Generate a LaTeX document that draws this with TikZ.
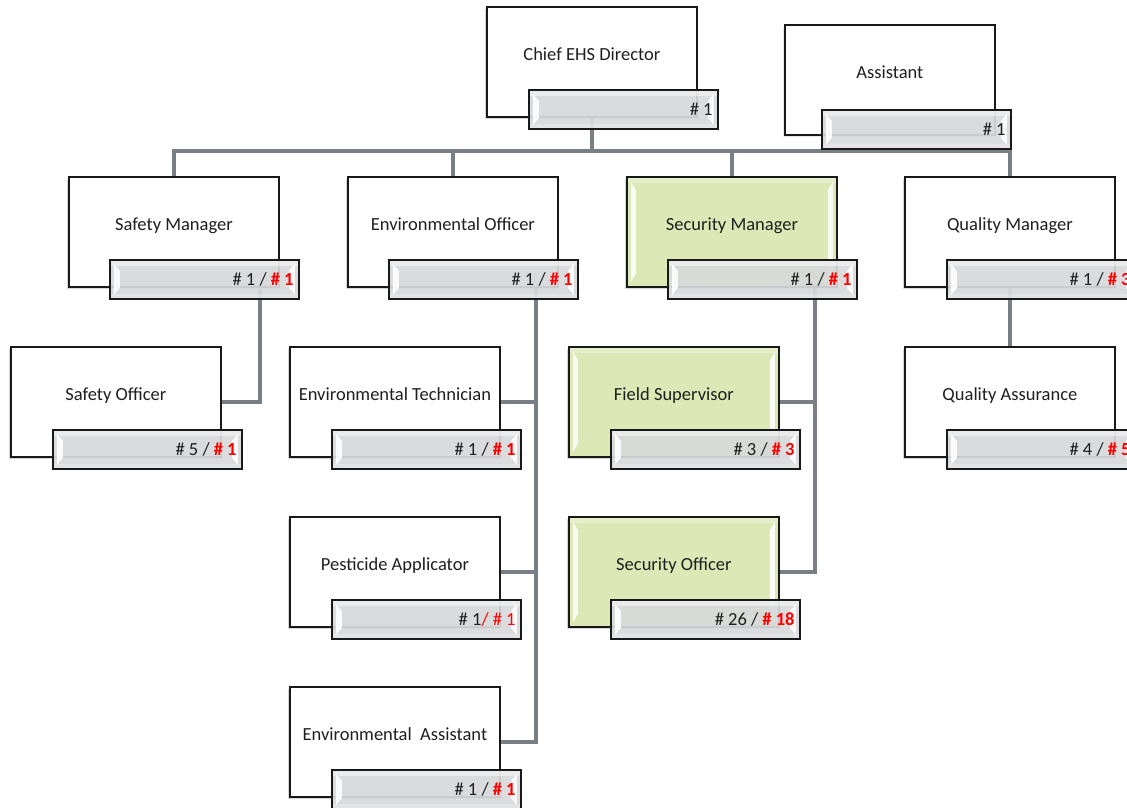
\documentclass[tikz,border=0pt]{standalone}
\usepackage{fontspec}
\setmainfont{Carlito}
\usetikzlibrary{calc,shadows}

\definecolor{connGray}{RGB}{122,127,134}
\definecolor{badgeGray}{RGB}{216,217,219}
\definecolor{secGreen}{RGB}{221,232,182}
\definecolor{frameDark}{RGB}{25,25,25}
\definecolor{countRed}{RGB}{255,0,0}

\newcommand{\ppbb}{path picture bounding box}
% head count: filled / authorised (authorised in bold red)
\newcommand{\hc}[2]{\# #1 / \textcolor{countRed}{\textbf{\# #2}}}

\tikzset{
  x=1pt, y=-1pt,
  connector/.style={draw=connGray, line width=4pt},
  rolebox/.style={draw=frameDark, line width=1.8pt, fill=white,
    minimum width=210pt, minimum height=110pt, inner sep=0pt, anchor=north west,
    drop shadow={shadow xshift=-1.5pt, shadow yshift=-2pt, opacity=0.18}},
  greenbox/.style={rolebox, fill=secGreen,
    path picture={
      \fill[white, opacity=0.3] (\ppbb.north west) rectangle ($(\ppbb.north east)+(0,6)$);
      \fill[white, opacity=0.85] ($(\ppbb.north west)+(4,5)$) -- ++(5,8)
        -- ($(\ppbb.south west)+(9,-13)$) -- ++(-5,8) -- cycle;
      \fill[white, opacity=0.85] ($(\ppbb.north east)+(-4,5)$) -- ++(-5,8)
        -- ($(\ppbb.south east)+(-9,-13)$) -- ++(5,8) -- cycle;
    }},
  badge/.style={draw=frameDark, line width=1.8pt, fill=badgeGray, fill opacity=0.93,
    minimum width=189pt, minimum height=39pt, inner sep=0pt, anchor=north west,
    path picture={
      \fill[white, opacity=0.45] (\ppbb.north west) rectangle ($(\ppbb.north east)+(0,6)$);
      \fill[white, opacity=0.25] ($(\ppbb.south west)+(0,-5)$) rectangle (\ppbb.south east);
      \fill[white, opacity=0.9] ($(\ppbb.north west)+(4,4)$) -- ++(6,7)
        -- ($(\ppbb.south west)+(10,-11)$) -- ++(-6,7) -- cycle;
      \fill[white, opacity=0.9] ($(\ppbb.north east)+(-4,4)$) -- ++(-6,7)
        -- ($(\ppbb.south east)+(-10,-11)$) -- ++(6,7) -- cycle;
    }},
  roletitle/.style={font=\fontsize{18.5}{22}\selectfont, inner sep=0pt, anchor=base, text=black!88},
  count/.style={font=\fontsize{18.5}{22}\selectfont, inner sep=0pt, anchor=base east, text=black!88},
}

% #1 name, #2 x, #3 y, #4 box style, #5 title, #6 count, #7 badge offset
\newcommand{\roleunit}[7]{%
  \node[#4] (#1) at (#2,#3) {};
  \node[roletitle] (#1-t) at ($(#1.north)+(0,54)$) {#5};
  \node[badge] (#1-b) at ($(#1.north west)+#7$) {};
  \node[count] (#1-c) at ($(#1-b.north east)+(-6,26)$) {#6};
}

\begin{document}
\begin{tikzpicture}
\useasboundingbox (0,0) rectangle (1127,808);
\clip (0,0) rectangle (1127,808);

% box outlines are placed first (invisible) so that the connectors can refer to them
\begin{scope}[opacity=0]
  \node[rolebox, drop shadow/.style={}] (chief) at (486,6) {};
  \node[rolebox, drop shadow/.style={}] (safm) at (68,176) {};
  \node[rolebox, drop shadow/.style={}] (envo) at (347,176) {};
  \node[rolebox, drop shadow/.style={}] (secm) at (626,176) {};
  \node[rolebox, drop shadow/.style={}] (qm) at (904,176) {};
  \node[rolebox, drop shadow/.style={}] (safo) at (10,346) {};
  \node[rolebox, drop shadow/.style={}] (envt) at (289,346) {};
  \node[rolebox, drop shadow/.style={}] (fsup) at (568,346) {};
  \node[rolebox, drop shadow/.style={}] (qa) at (904,346) {};
  \node[rolebox, drop shadow/.style={}] (pest) at (289,516) {};
  \node[rolebox, drop shadow/.style={}] (seco) at (568,516) {};
  \node[rolebox, drop shadow/.style={}] (enva) at (289,686) {};
\end{scope}

% connectors
\coordinate (bus) at (0,151);
\draw[connector] (chief.center) -- (chief.center |- bus);
\draw[connector] (safm.north) -- (safm.north |- bus) -- (qm.north |- bus) -- (qm.north);
\draw[connector] (envo.north) -- (envo.north |- bus);
\draw[connector] (secm.north) -- (secm.north |- bus);

\coordinate (safx) at ($(safm.south east)+(-20,0)$);
\draw[connector] (safx) |- (safo.east);

\coordinate (envx) at ($(envo.south east)+(-23,0)$);
\draw[connector] (envx) |- (enva.east);
\draw[connector] (envt.east) -- (envt.east -| envx);
\draw[connector] (pest.east) -- (pest.east -| envx);

\coordinate (secx) at ($(secm.south east)+(-23,0)$);
\draw[connector] (secx) |- (seco.east);
\draw[connector] (fsup.east) -- (fsup.east -| secx);

\draw[connector] (qm.south) -- (qa.north);

% positions
\roleunit{chief}{486}{6}{rolebox}{Chief EHS Director}{\# 1}{(42,83)}
\roleunit{asst}{784}{24}{rolebox}{Assistant}{\# 1}{(37,85)}

\roleunit{safm}{68}{176}{rolebox}{Safety Manager}{\hc{1}{1}}{(41,83)}
\roleunit{envo}{347}{176}{rolebox}{Environmental Officer}{\hc{1}{1}}{(41,83)}
\roleunit{secm}{626}{176}{greenbox}{Security Manager}{\hc{1}{1}}{(41,83)}
\roleunit{qm}{904}{176}{rolebox}{Quality Manager}{\hc{1}{3}}{(42,83)}

\roleunit{safo}{10}{346}{rolebox}{Safety Officer}{\hc{5}{1}}{(42,83)}
\roleunit{envt}{289}{346}{rolebox}{Environmental Technician}{\hc{1}{1}}{(42,83)}
\roleunit{fsup}{568}{346}{greenbox}{Field Supervisor}{\hc{3}{3}}{(42,83)}
\roleunit{qa}{904}{346}{rolebox}{Quality Assurance}{\hc{4}{5}}{(42,83)}

\roleunit{pest}{289}{516}{rolebox}{Pesticide Applicator}{\# 1\textcolor{countRed}{/ \# 1}}{(42,83)}
\roleunit{seco}{568}{516}{greenbox}{Security Officer}{\hc{26}{18}}{(42,83)}

\roleunit{enva}{289}{686}{rolebox}{Environmental\ \ Assistant}{\hc{1}{1}}{(42,83)}
\end{tikzpicture}
\end{document}
